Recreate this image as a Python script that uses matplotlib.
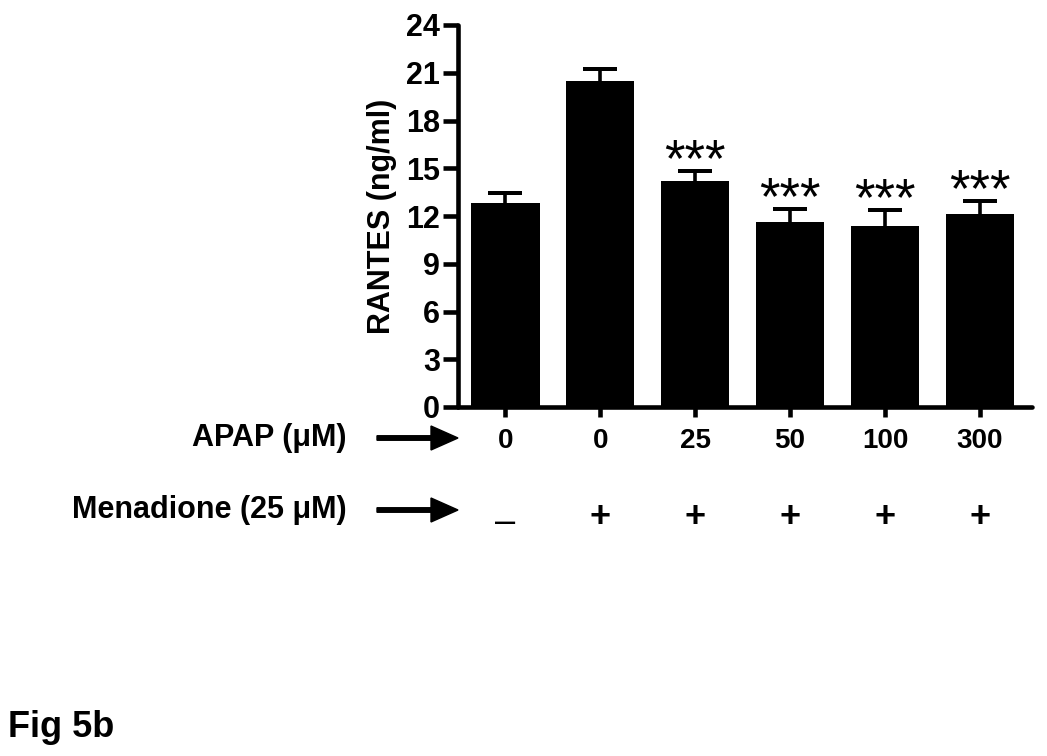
import numpy as np
import matplotlib
matplotlib.use("Agg")
import matplotlib.pyplot as plt
from matplotlib.patches import FancyArrow
from matplotlib.transforms import blended_transform_factory

plt.rcParams['font.family'] = ['Liberation Sans', 'DejaVu Sans']

# data
apap = ["0", "0", "25", "50", "100", "300"]
menadione = ["\u2013", "+", "+", "+", "+", "+"]
rantes = [12.8, 20.5, 14.2, 11.6, 11.4, 12.1]
sem = [0.65, 0.75, 0.65, 0.85, 1.0, 0.85]
signif = ["", "", "***", "***", "***", "***"]
yticks = [0, 3, 6, 9, 12, 15, 18, 21, 24]

W, H = 1047, 756
fig = plt.figure(figsize=(W/100, H/100), dpi=100, facecolor="white")
ax = fig.add_axes([458/W, 1-407/H, (1032-458)/W, (407-25)/H])

x = np.arange(len(rantes))
lw = 3.3
top = np.array(rantes) + np.array(sem)
# upper error bars only: stem + cap, behind the bars
ax.vlines(x, rantes, top, color="black", lw=2.6, zorder=2)
ax.errorbar(x, top, yerr=0, fmt="none", ecolor="black", elinewidth=0,
            capsize=12, capthick=2.8, zorder=2)
ax.bar(x, rantes, width=0.72, color="black", zorder=3)
for xi, t, s in zip(x, top, signif):
    if s:
        ax.annotate(s, xy=(xi, t), xytext=(0, -4), textcoords="offset points",
                    ha="center", va="baseline", fontsize=38)

ax.set_xlim(-0.5, 5.55)
ax.set_ylim(0, 24)
ax.set_yticks(yticks)
ax.set_yticklabels([str(t) for t in yticks], fontsize=22, fontweight="bold")
ax.set_xticks(x)
ax.set_xticklabels(apap, fontsize=20, fontweight="bold")
ax.tick_params(axis="y", length=11, width=lw, pad=2)
ax.tick_params(axis="x", length=7, width=lw, pad=8)
for side in ["top", "right"]:
    ax.spines[side].set_visible(False)
for side in ["left", "bottom"]:
    ax.spines[side].set_linewidth(lw)
    ax.spines[side].set_capstyle("round")
ax.set_ylabel("RANTES (ng/ml)", fontsize=22, fontweight="bold", labelpad=6)

# menadione row under the apap row
btr = blended_transform_factory(ax.transData, fig.transFigure)
for xi, m in zip(x, menadione):
    if m == "+":
        ax.text(xi, 1-518/H, m, transform=btr, ha="center", va="center",
                fontsize=26, fontweight="bold")
    else:
        ax.text(xi, 1-522/H, m, transform=btr, ha="center", va="center",
                fontsize=26)

# row headers and arrows
fig.text(347/W, 1-438/H, "APAP (\u03bcM)", ha="right", va="center", fontsize=22, fontweight="bold")
fig.text(347/W, 1-510/H, "Menadione (25 \u03bcM)", ha="right", va="center", fontsize=22, fontweight="bold")
for yy in [438, 510]:
    fig.add_artist(FancyArrow(377/W, 1-yy/H, (458-377)/W, 0, width=4.5/H, head_width=24/H,
                              head_length=27/W, length_includes_head=True, color="black",
                              transform=fig.transFigure))

fig.text(8/W, 1-737/H, "Fig 5b", ha="left", va="baseline", fontsize=26, fontweight="bold")

fig.savefig("out.png", dpi=100, facecolor="white")
